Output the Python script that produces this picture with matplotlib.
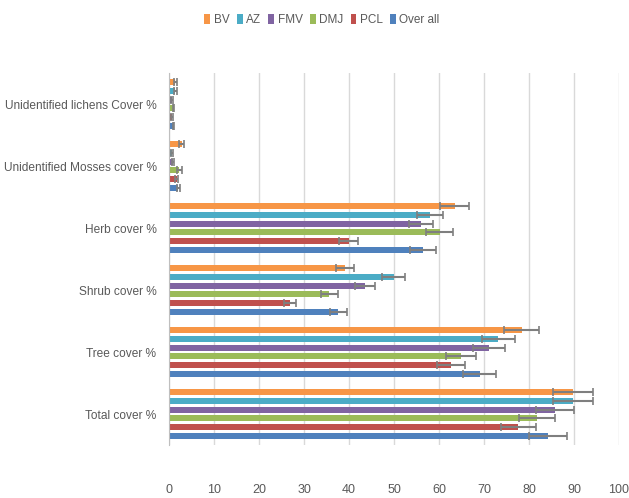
import numpy as np
import matplotlib
matplotlib.use("Agg")
import matplotlib.pyplot as plt

plt.rcParams['font.family'] = ['Liberation Sans', 'DejaVu Sans']

categories = ["Total cover %", "Tree cover %", "Shrub cover %", "Herb cover %",
              "Unidentified Mosses cover %", "Unidentified lichens Cover %"]
series = ["BV", "AZ", "FMV", "DMJ", "PCL", "Over all"]
colors = ["#F79646", "#4BACC6", "#8064A2", "#9BBB59", "#C0504D", "#4F81BD"]

# values per series, in category order (Total, Tree, Shrub, Herb, Mosses, Lichens)
bv = [89.8, 78.4, 39.2, 63.5, 2.8, 1.4]
az = [89.8, 73.2, 49.9, 58.0, 0.6, 1.4]
fmv = [85.8, 71.1, 43.6, 56.0, 0.9, 0.6]
dmj = [81.7, 64.9, 35.6, 60.2, 2.3, 1.0]
pcl = [77.6, 62.6, 26.9, 39.9, 1.7, 0.7]
overall = [84.3, 69.0, 37.6, 56.4, 2.1, 1.0]

bv_err = [4.5, 3.9, 2.0, 3.2, 0.5, 0.3]
az_err = [4.5, 3.7, 2.5, 2.9, 0.2, 0.3]
fmv_err = [4.3, 3.6, 2.2, 2.7, 0.3, 0.2]
dmj_err = [4.0, 3.3, 1.9, 3.0, 0.5, 0.2]
pcl_err = [3.9, 3.1, 1.4, 2.1, 0.4, 0.2]
overall_err = [4.2, 3.6, 1.9, 2.9, 0.4, 0.2]

values = [bv, az, fmv, dmj, pcl, overall]
errors = [bv_err, az_err, fmv_err, dmj_err, pcl_err, overall_err]

fig = plt.figure(figsize=(6.29, 4.98), dpi=100)
ax = fig.add_axes([169 / 629, 53 / 498, 450 / 629, 372 / 498])

y = np.arange(len(categories))
pitch = 0.14
for i, (name, vals, errs, c) in enumerate(zip(series, values, errors, colors)):
    offset = (2.5 - i) * pitch
    ax.barh(y + offset, vals, height=0.1, color=c, label=name, zorder=2,
            xerr=errs, error_kw=dict(ecolor="#7f7f7f", elinewidth=1.5,
                                     capsize=3, capthick=1.2, zorder=3))

ax.set_xlim(0, 100)
ax.set_ylim(-0.5, 5.5)
ax.set_xticks(np.arange(0, 101, 10))
ax.set_yticks(y)
ax.set_yticklabels(categories)
ax.grid(axis='x', color="#d9d9d9", linewidth=1, zorder=0)
for s in ['top', 'right', 'bottom']:
    ax.spines[s].set_visible(False)
ax.spines['left'].set_color("#bfbfbf")
ax.tick_params(axis='y', length=0, pad=9, labelsize=8.6, labelcolor="#595959")
ax.tick_params(axis='x', length=0, pad=28, labelsize=9, labelcolor="#595959")

ax.legend(loc='center', bbox_to_anchor=(0.34, 1.142), ncol=6, frameon=False,
          handlelength=0.5, handleheight=0.9, handletextpad=0.3, columnspacing=0.6,
          fontsize=8.5, labelcolor="#595959")

fig.savefig("out.png", dpi=100)
